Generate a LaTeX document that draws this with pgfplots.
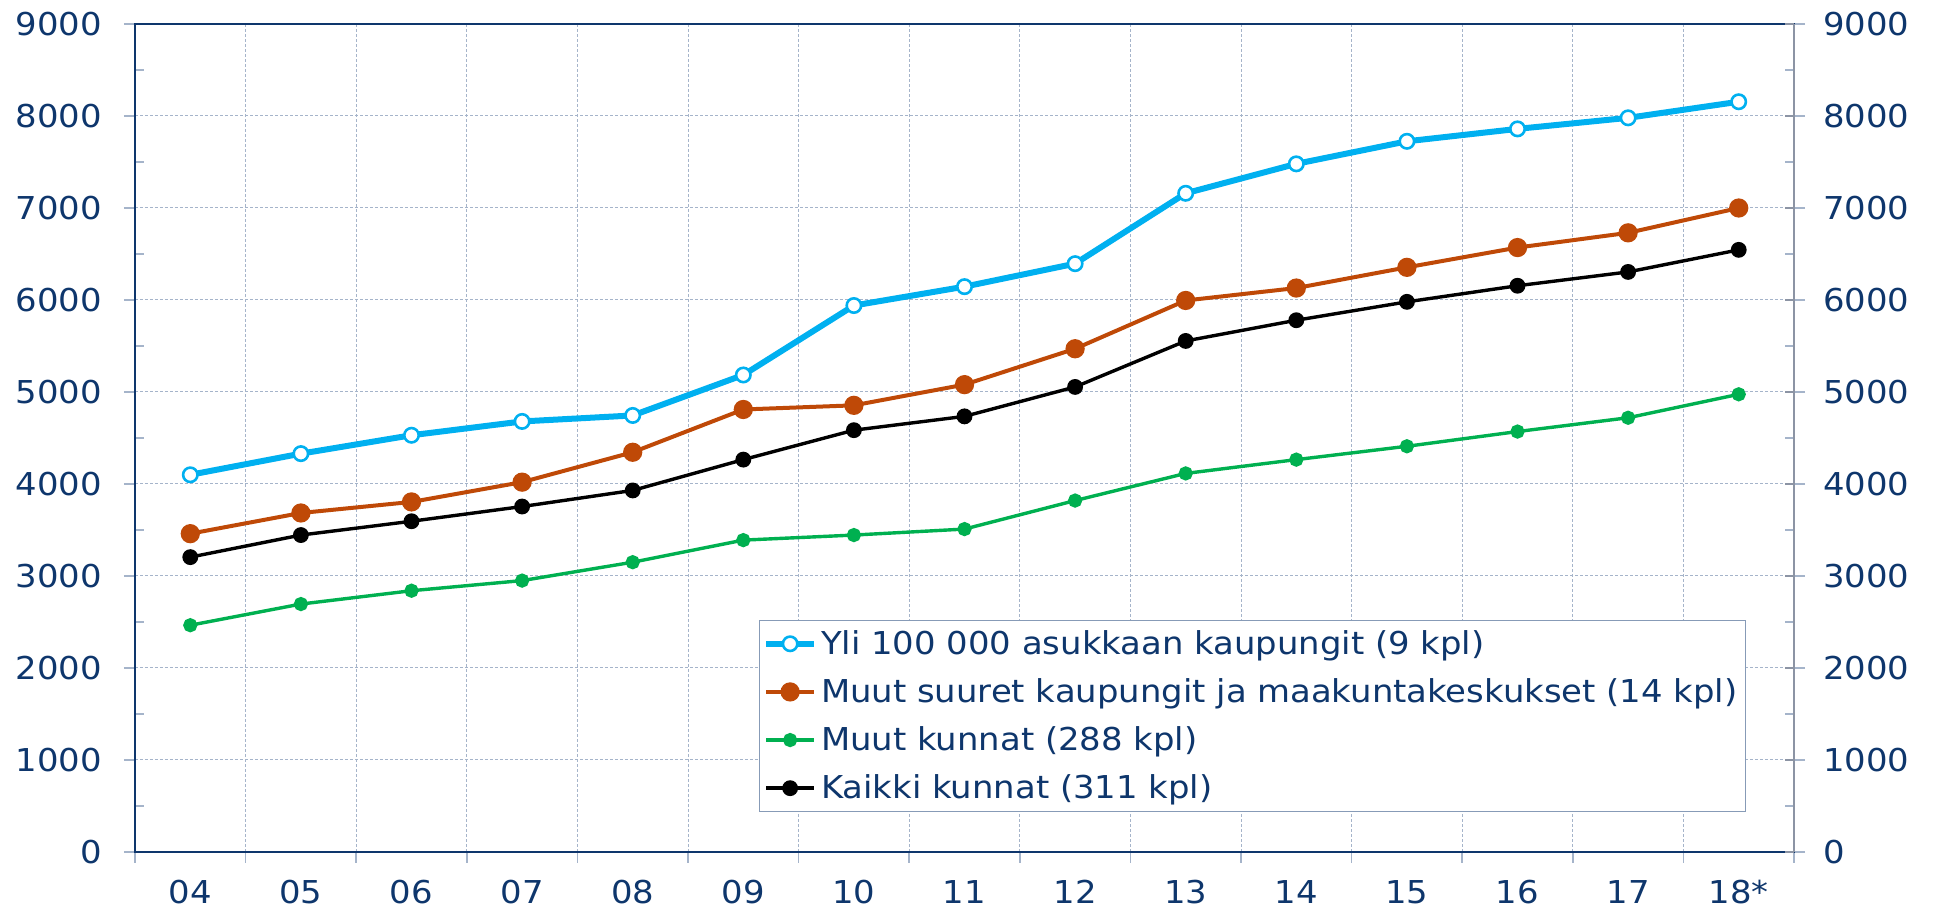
\documentclass[border=0pt]{standalone}
\usepackage{fontspec}
\setmainfont[FakeStretch=1.075]{DejaVu Sans}
\usepackage{pgfplots}
\pgfplotsset{compat=1.18}
\definecolor{navy}{RGB}{14,54,108}
\definecolor{cblue}{RGB}{0,176,240}
\definecolor{corange}{RGB}{191,73,7}
\definecolor{cgreen}{RGB}{0,176,80}
\definecolor{gridc}{RGB}{165,180,202}
\definecolor{raxis}{RGB}{140,148,164}

\pgfplotstableread{
x yli muut kunnat kaikki
0  4100 3460 2465 3205
1  4330 3685 2695 3445
2  4530 3805 2840 3595
3  4680 4020 2950 3755
4  4745 4345 3150 3930
5  5185 4810 3390 4265
6  5940 4855 3445 4585
7  6145 5080 3510 4735
8  6395 5470 3820 5055
9  7160 5995 4115 5555
10 7480 6130 4265 5780
11 7725 6355 4410 5980
12 7860 6570 4570 6155
13 7980 6730 4720 6305
14 8155 7000 4975 6545
}\data

\begin{document}
\begin{tikzpicture}
\useasboundingbox (0,0) rectangle (968.5pt,457pt);
\pgfplotsset{
  base/.style={
    at={(67.5pt,31pt)}, anchor=south west,
    scale only axis, width=829.5pt, height=414pt,
    xmin=-0.5, xmax=14.5, ymin=0, ymax=9000,
    ytick={0,1000,...,9000},
    tick label style={font=\fontsize{15.75}{18}\selectfont, text=navy},
    /pgf/number format/assume math mode=true,
    /pgf/number format/1000 sep={},
  }
}
\begin{axis}[base,
  xtick={-0.5,0.5,...,14.5},
  xticklabels={04,05,06,07,08,09,10,11,12,13,14,15,16,17,18*,{}},
  x tick label style={xshift=27.65pt, yshift=-5pt},
  y tick label style={xshift=-7.5pt},
  minor y tick num=1,
  xmajorgrids, ymajorgrids,
  major grid style={gridc, line width=0.5pt, dash pattern=on 1.5pt off 1pt},
  tick align=outside, major tick length=5.5pt, minor tick length=-4.5pt,
  xtick pos=bottom, ytick pos=both, yticklabel pos=left,
  tick style={gridc, line width=0.8pt},
  axis line style={navy, line width=1.1pt},
  legend cell align=left,
  legend style={at={(0.971,0.048)}, anchor=south east,
    draw=gridc!80!navy, line width=0.6pt, text=navy,
    font=\fontsize{15.75}{18}\selectfont, row sep=6.6pt,
    inner xsep=2pt, inner ysep=3pt},
  legend image code/.code={\draw[mark repeat=2,mark phase=2,#1]
    plot coordinates {(0pt,0pt)(12pt,0pt)(24pt,0pt)};},
]
\addplot[cblue, line width=3pt, mark=*, mark size=3.6pt,
  mark options={fill=white, draw=cblue, line width=1.3pt}] table[x=x,y=yli]{\data};
\addplot[corange, line width=2pt, mark=*, mark size=3.8pt,
  mark options={solid}] table[x=x,y=muut]{\data};
\addplot[cgreen, line width=1.7pt, mark=*, mark size=2.7pt] table[x=x,y=kunnat]{\data};
\addplot[black, line width=1.7pt, mark=*, mark size=3.1pt] table[x=x,y=kaikki]{\data};
\legend{Yli 100 000 asukkaan kaupungit (9 kpl),
  Muut suuret kaupungit ja maakuntakeskukset (14 kpl),
  Muut kunnat (288 kpl),
  Kaikki kunnat (311 kpl)}
\end{axis}
\begin{axis}[base,
  axis x line=none, axis y line*=right,
  ytick align=inside, major tick length=4.5pt,
  y tick label style={xshift=11pt},
  tick style={raxis, line width=0.8pt},
  axis line style={raxis, line width=1.1pt, -},
]
\addplot[draw=none] coordinates {(0,0)};
\end{axis}
\end{tikzpicture}
\end{document}
